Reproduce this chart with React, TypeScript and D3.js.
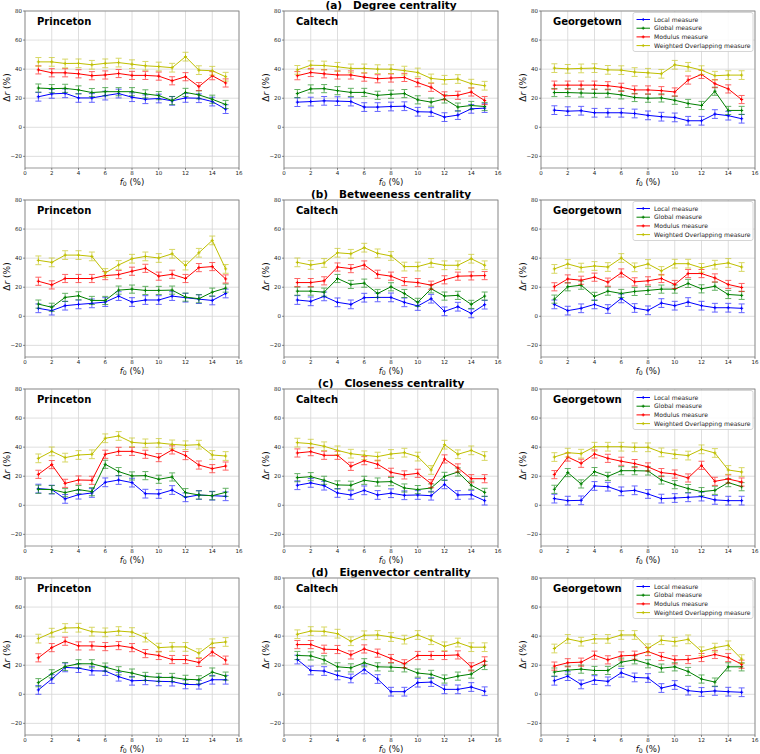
import React from 'react';
import * as d3 from 'd3';

const F0 = [1, 2, 3, 4, 5, 6, 7, 8, 9, 10, 11, 12, 13, 14, 15];
const SERIES_NAMES = ['Local measure', 'Global measure', 'Modulus measure', 'Weighted Overlapping measure'];
const SERIES_COLORS = ['#0000ff', '#008000', '#ff0000', '#bfbf00'];
const ERR = [3, 2.8, 2.8, 3];
const ROW_TITLES = ['(a)   Degree centrality', '(b)   Betweeness centrality', '(c)   Closeness centrality', '(d)   Eigenvector centrality'];
const SCHOOLS = ['Princeton', 'Caltech', 'Georgetown'];
const X_TICKS = [0, 2, 4, 6, 8, 10, 12, 14, 16];
const Y_TICKS = [-20, 0, 20, 40, 60, 80];

// order of each panel: [local, global, modulus, weighted overlapping]
const degreePrinceton = [
  [21, 23, 23.4, 20.2, 20.2, 21.8, 23.2, 20.7, 19.3, 19.8, 18.2, 20.2, 20, 17.7, 12.5],
  [27, 26.6, 26.8, 25.7, 23.9, 24.5, 24.5, 24.5, 23, 21.8, 18.4, 24, 22.3, 19.3, 15.7],
  [39.5, 37.5, 37.5, 36.8, 35.5, 36, 37, 35.7, 35.7, 35.2, 32, 34.8, 28, 35.5, 30.5],
  [45, 45, 43.9, 44, 43, 44, 44.5, 43.4, 42.3, 41.8, 41, 48.6, 39.3, 38.9, 34.8],
];
const degreeCaltech = [
  [17.3, 17.7, 18.2, 18, 17.7, 13.9, 13.9, 14.3, 14.5, 10.7, 10.5, 7, 8.4, 12.7, 13.2],
  [23.2, 26.4, 26.6, 25.2, 24, 24, 22, 22.7, 23.2, 18.9, 17.3, 19.5, 13.9, 15, 14.3],
  [35.5, 37.7, 36.8, 36, 36, 34.5, 33.4, 33.9, 34.3, 30.7, 27.5, 21.6, 22, 24.3, 18.4],
  [39.5, 42.7, 42.5, 41.6, 40.5, 40.5, 40, 40, 39, 37.7, 33.6, 32.7, 33.2, 30, 28.6],
];
const degreeGeorgetown = [
  [11.8, 11.1, 11.4, 10, 10, 10, 9.5, 8.2, 7.3, 6.8, 4.5, 4.5, 9.1, 8, 5.9],
  [23.9, 23.9, 23.6, 23.4, 23.4, 22.3, 20.5, 20, 20.2, 18.6, 16.4, 15, 24.8, 11.6, 11.6],
  [29, 29, 29, 29, 28.6, 27.5, 25.7, 25.7, 25.2, 24.3, 32.5, 36.4, 30, 26.4, 19.1],
  [40.7, 40.2, 40.5, 40.7, 39.5, 39.3, 38, 37.5, 36.8, 43, 41.6, 39.3, 35.5, 35.9, 35.9],
];
const betweenPrinceton = [
  [5.5, 3.9, 7.3, 8.2, 8.9, 9.8, 13.9, 9.8, 11.2, 11.2, 13.9, 12.8, 11.8, 10.9, 15.7],
  [8.4, 6.2, 13, 14.1, 10.9, 10.9, 18, 18.7, 17.8, 17.8, 18, 13.2, 12.1, 16.6, 19.4],
  [24.1, 21.6, 26, 26, 26, 28, 28.7, 31, 33, 27.6, 28.9, 26, 33.5, 34.2, 25.7],
  [38.5, 37.1, 42.1, 42.1, 41.2, 29.8, 35.3, 39.6, 41.2, 40.1, 43, 34.9, 43.7, 52.2, 32.6],
];
const betweenCaltech = [
  [11.2, 10.3, 13.7, 9.6, 8.2, 12.8, 13, 13, 9.6, 7.1, 12.1, 3.4, 6.6, 2, 8],
  [17.3, 17.3, 16.6, 26, 21.9, 22.8, 15.7, 20.3, 15.7, 9.6, 18.9, 13.9, 14.4, 8.2, 13.9],
  [23.2, 23.2, 24.4, 33.9, 32.8, 35.3, 28.9, 27.6, 23.9, 23.2, 21.4, 25.1, 27.6, 27.8, 28],
  [37.1, 35.3, 36.7, 43.7, 43, 47.2, 43.3, 41.5, 34.2, 34.2, 36.7, 35.1, 35.1, 39.6, 35.1],
];
const betweenGeorgetown = [
  [8.2, 3.9, 5.5, 8.2, 5, 12.3, 5.7, 4.1, 9.1, 7.3, 9.8, 7.3, 5.9, 5.9, 5.5],
  [11.8, 20.3, 21.4, 13.7, 17.3, 15.7, 17.1, 17.8, 18.7, 18.7, 22.6, 18.9, 20.7, 15, 14.4],
  [20.3, 25.7, 24.8, 26.9, 23.5, 29.8, 23.7, 24.4, 26, 21.9, 29.4, 29.4, 26.4, 21.9, 19.8],
  [32.6, 36, 33.5, 34.6, 33.9, 40.1, 33.7, 36, 31.2, 36.2, 36.2, 33.3, 35.5, 36.7, 33.9],
];
const closePrinceton = [
  [11.5, 10.8, 4.4, 7.3, 8.5, 15.8, 17.4, 15.6, 8, 7.8, 10.5, 5.5, 7.1, 6.6, 6.2],
  [11, 10.8, 8.7, 10.8, 9.4, 28.2, 23.2, 20.2, 20.4, 17.9, 19.5, 8.7, 7.1, 6.6, 8.9],
  [21.3, 28, 15.1, 17.4, 17.2, 35.1, 37.1, 37.1, 35.1, 32.8, 38.1, 34.2, 27.7, 25.2, 27],
  [32.3, 37.1, 32.8, 34.6, 35.1, 46.1, 47.7, 43.3, 42.6, 42.9, 41.9, 41.3, 41.7, 34.6, 33.9],
];
const closeCaltech = [
  [13.8, 15.4, 13.5, 8.5, 7.1, 10.3, 7.1, 8.3, 6.9, 7.1, 6.6, 14.4, 7.1, 7.3, 3.2],
  [19, 19.7, 17.2, 14, 13.8, 17.2, 16, 16.3, 11.9, 10.8, 11.9, 19.9, 22.9, 13.8, 8.9],
  [36, 36.9, 34.4, 34.4, 26.8, 30.7, 28.2, 22.7, 20.9, 22, 14.9, 31.9, 25.7, 18.3, 18.3],
  [43.1, 42.4, 40.6, 37.8, 35.5, 34.4, 33.5, 35.3, 36.2, 33.5, 24.3, 41.7, 35.1, 37.8, 33.9],
];
const closeGeorgetown = [
  [4.6, 3.2, 3.4, 13.3, 12.8, 9.6, 10.3, 7.8, 4.6, 5, 5.5, 6, 3.7, 3.2, 3.2],
  [11, 22.5, 14.7, 23.2, 19.9, 23.8, 23.8, 23.6, 17.4, 14.2, 11.5, 9.4, 10.3, 15.6, 12.8],
  [21.1, 33.2, 28.9, 35.3, 32.3, 30.3, 28.7, 26.4, 22.5, 21.5, 18.8, 27.5, 16.5, 18.1, 16],
  [33.2, 36.2, 35.5, 40.3, 40.3, 40.3, 39.9, 39.9, 36.4, 35.1, 34.2, 38.5, 36, 24.3, 22.9],
];
const eigenPrinceton = [
  [3, 10.5, 18.5, 18, 16.2, 16, 12.1, 9.3, 9.6, 8.9, 8.7, 6.8, 6.6, 10, 10],
  [8, 14.1, 19.1, 21, 21, 18.7, 16.2, 14.6, 12.3, 11.6, 11.6, 10.3, 10, 15.3, 12.5],
  [25.1, 32.1, 36.5, 33.3, 33.3, 32.8, 33.5, 32.1, 28, 26.7, 23.9, 23.9, 21.9, 29.2, 23.5],
  [38.3, 42.4, 45.6, 45.8, 43.1, 42.6, 43.5, 42.8, 39, 32.1, 32.6, 32.6, 28.3, 35.1, 36],
];
const eigenCaltech = [
  [23.9, 16.4, 16, 13, 10.9, 17.1, 10.5, 1.8, 1.8, 8, 8.4, 3.4, 3.4, 5, 2.1],
  [26.7, 26.4, 23.7, 18.9, 18.2, 21.7, 18.9, 18.7, 18.2, 14.6, 13.7, 10.5, 12.5, 13.9, 19.8],
  [34.2, 34.2, 31, 30.8, 27.1, 31.2, 28.3, 24.6, 21, 26.7, 26.7, 26.7, 27.1, 18.9, 23],
  [41.3, 43.5, 43.3, 41.7, 36.5, 40.6, 40.8, 39.4, 37.6, 40.8, 37.2, 33, 35.6, 32.4, 32.4],
];
const eigenGeorgetown = [
  [9.3, 12.5, 6.8, 9.8, 8.9, 14.8, 11.6, 11.2, 4.3, 6.4, 2.5, 1.6, 2.3, 1.8, 1.4],
  [15.3, 16.6, 17.3, 16.4, 16.4, 22.1, 23.7, 21, 18, 18.9, 15.7, 10.5, 8.4, 18.9, 18.9],
  [19.4, 21.7, 22.1, 26.9, 23.7, 26.4, 26.9, 29.4, 26, 23.7, 23.9, 25.3, 27.4, 25.3, 20.7],
  [31.5, 38.1, 36.2, 38.1, 38.1, 40.8, 40.8, 31.7, 37.2, 36.2, 37.8, 29.6, 32.1, 33.7, 24.2],
];

const PANELS = [
  [degreePrinceton, degreeCaltech, degreeGeorgetown],
  [betweenPrinceton, betweenCaltech, betweenGeorgetown],
  [closePrinceton, closeCaltech, closeGeorgetown],
  [eigenPrinceton, eigenCaltech, eigenGeorgetown],
];

const W = 760;
const H = 754;
const LEFTS = [25, 284, 541];
const TOPS = [11, 200, 389, 578];
const PW = 214;
const PH = 157;
const FONT = 'DejaVu Sans, sans-serif';

function Panel({ data, left, top, school, showLegend }: any) {
  const x = d3.scaleLinear().domain([0, 16]).range([left, left + PW]);
  const y = d3.scaleLinear().domain([-28, 80]).range([top + PH, top]);
  const line = d3.line<number>().x((_, i) => x(F0[i])).y((d) => y(d));
  const cap = 3;
  return (
    <g>
      {X_TICKS.map((t) => (
        <line key={'gx' + t} x1={x(t)} x2={x(t)} y1={top} y2={top + PH} stroke="#d6d6d6" strokeWidth={0.8} />
      ))}
      {Y_TICKS.map((t) => (
        <line key={'gy' + t} x1={left} x2={left + PW} y1={y(t)} y2={y(t)} stroke="#d6d6d6" strokeWidth={0.8} />
      ))}
      {data.map((vals: number[], s: number) => (
        <g key={'s' + s}>
          {vals.map((v, i) => (
            <g key={i} stroke={SERIES_COLORS[s]} strokeWidth={1} opacity={0.6}>
              <line x1={x(F0[i])} x2={x(F0[i])} y1={y(v - ERR[s])} y2={y(v + ERR[s])} />
              <line x1={x(F0[i]) - cap} x2={x(F0[i]) + cap} y1={y(v - ERR[s])} y2={y(v - ERR[s])} />
              <line x1={x(F0[i]) - cap} x2={x(F0[i]) + cap} y1={y(v + ERR[s])} y2={y(v + ERR[s])} />
            </g>
          ))}
          <path d={line(vals) || ''} fill="none" stroke={SERIES_COLORS[s]} strokeWidth={1} />
          {vals.map((v, i) => (
            <path
              key={'m' + i}
              d={`M${x(F0[i]) - 1.6},${y(v)}h3.2M${x(F0[i])},${y(v) - 1.6}v3.2`}
              stroke={SERIES_COLORS[s]}
              strokeWidth={1}
            />
          ))}
        </g>
      ))}
      <rect x={left} y={top} width={PW} height={PH} fill="none" stroke="#7f7f7f" strokeWidth={0.8} />
      {X_TICKS.map((t) => (
        <g key={'tx' + t}>
          <line x1={x(t)} x2={x(t)} y1={top + PH} y2={top + PH + 2} stroke="#444" strokeWidth={0.6} />
          <text x={x(t)} y={top + PH + 7.2} fontSize={5.5} textAnchor="middle" fontFamily={FONT} fill="#222">
            {t}
          </text>
        </g>
      ))}
      {Y_TICKS.map((t) => (
        <g key={'ty' + t}>
          <line x1={left - 2} x2={left} y1={y(t)} y2={y(t)} stroke="#444" strokeWidth={0.6} />
          <text x={left - 3} y={y(t) + 2} fontSize={5.5} textAnchor="end" fontFamily={FONT} fill="#222">
            {t < 0 ? '\u2212' + Math.abs(t) : t}
          </text>
        </g>
      ))}
      <text x={left + PW / 2} y={top + PH + 16.5} fontSize={8.6} textAnchor="middle" fontFamily={FONT} fill="#111">
        <tspan fontStyle="italic">f</tspan>
        <tspan fontSize={6.2} dy={1.6}>0</tspan>
        <tspan dy={-1.6}> (%)</tspan>
      </text>
      <text
        transform={`translate(${left - 15},${top + PH / 2 - 2}) rotate(-90)`}
        fontSize={9}
        textAnchor="middle"
        fontFamily={FONT}
        fill="#111"
      >
        Δ<tspan fontStyle="italic">r</tspan> (%)
      </text>
      <text x={left + 12} y={top + 14} fontSize={10} fontWeight="bold" fontFamily={FONT} fill="#000">
        {school}
      </text>
      {showLegend && (
        <g>
          <rect x={left + 92} y={top + 1.5} width={120} height={39} rx={2} fill="#fff" fillOpacity={0.85} stroke="#cccccc" strokeWidth={0.8} />
          {SERIES_NAMES.map((n, s) => {
            const yy = top + 8.5 + s * 8.7;
            return (
              <g key={n}>
                <line x1={left + 95.5} x2={left + 109} y1={yy} y2={yy} stroke={SERIES_COLORS[s]} strokeWidth={1} />
                <path d={`M${left + 102.2 - 1.5},${yy}h3M${left + 102.2},${yy - 1.5}v3`} stroke={SERIES_COLORS[s]} strokeWidth={1} />
                <text x={left + 113} y={yy + 2.2} fontSize={6.1} fontFamily={FONT} fill="#222">
                  {n}
                </text>
              </g>
            );
          })}
        </g>
      )}
    </g>
  );
}

export default function App() {
  return (
    <svg width={W} height={H} style={{ display: 'block', position: 'absolute', left: 0, top: 0, background: '#fff' }}>
      <rect x={0} y={0} width={W} height={H} fill="#fff" />
      {PANELS.map((row, r) => (
        <g key={'r' + r}>
          <text
            x={LEFTS[1] + PW / 2}
            y={TOPS[r] - 2}
            fontSize={10.5}
            fontWeight="bold"
            textAnchor="middle"
            fontFamily={FONT}
            fill="#000"
            style={{ whiteSpace: 'pre' }}
          >
            {ROW_TITLES[r]}
          </text>
          {row.map((data, c) => (
            <Panel key={c} data={data} left={LEFTS[c]} top={TOPS[r]} school={SCHOOLS[c]} showLegend={c === 2} />
          ))}
        </g>
      ))}
    </svg>
  );
}
